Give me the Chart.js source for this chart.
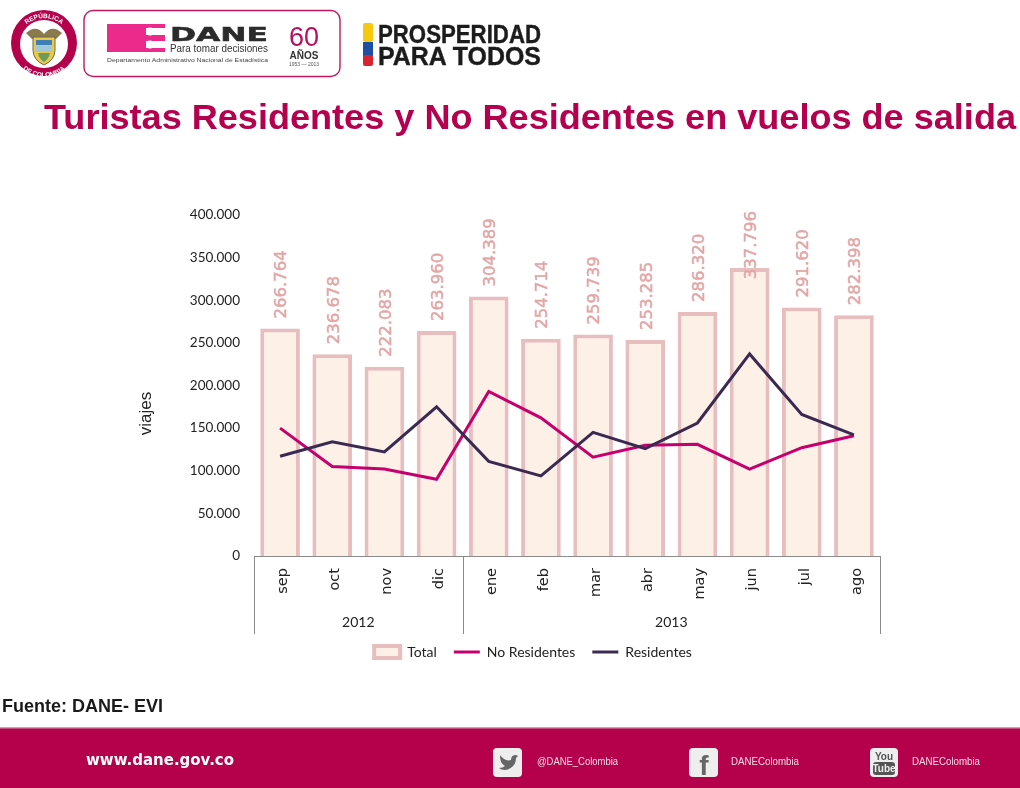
<!DOCTYPE html>
<html lang="es"><head><meta charset="utf-8">
<script src="https://cdn.jsdelivr.net/npm/chart.js@4/dist/chart.umd.min.js"></script>
<style>
html,body{margin:0;padding:0;background:#fff;width:1020px;height:788px;overflow:hidden}
#stage{position:relative;width:1020px;height:788px;overflow:hidden}
#c{position:absolute;left:0;top:0}
#art{position:absolute;left:0;top:0}
</style></head><body>
<div id="stage">
<canvas id="c" width="1020" height="788"></canvas>
<svg id="art" width="1020" height="788" viewBox="0 0 1020 788" xmlns="http://www.w3.org/2000/svg">
  <defs>
    <path id="arcTop" d="M 17 45 A 27 27 0 0 1 71 45"/>
    <path id="arcBot" d="M 12 45 A 32 32 0 0 0 76 45"/>
  </defs>
  <!-- escudo -->
  <circle cx="44" cy="43" r="33" fill="#B5004B"/>
  <circle cx="44" cy="44" r="24" fill="#fff"/>
  <text font-family="Liberation Sans" font-weight="bold" font-size="6.5" fill="#fff"><textPath href="#arcTop" startOffset="50%" text-anchor="middle">REPÚBLICA</textPath></text>
  <text font-family="Liberation Sans" font-weight="bold" font-size="6.5" fill="#fff"><textPath href="#arcBot" startOffset="50%" text-anchor="middle">DE COLOMBIA</textPath></text>
  <path d="M26 33 Q36 24 44 34 Q52 24 62 33 L56 39 L32 39 Z" fill="#8a7a4c"/>
  <path d="M33 37 H55 V50 Q55 60 44 65 Q33 60 33 50 Z" fill="#E9C94A" stroke="#6d6b4a" stroke-width="1"/>
  <rect x="36" y="40" width="16" height="5" fill="#3f7fb8"/>
  <rect x="36" y="46" width="16" height="6" fill="#9fc7d8"/>
  <path d="M38 53 H50 Q49 59 44 62 Q39 59 38 53 Z" fill="#6f9a5a"/>
  <!-- marco DANE -->
  <rect x="84" y="10.5" width="256" height="66" rx="9" fill="#fff" stroke="#C2185B" stroke-width="1.4"/>
  <rect x="107" y="24" width="58" height="28" fill="#EC2A8B"/>
  <rect x="146" y="28" width="19" height="7" fill="#fff"/><rect x="146" y="41" width="19" height="7" fill="#fff"/>
  <circle cx="150" cy="31.5" r="4" fill="#fff"/><circle cx="150" cy="44.5" r="4" fill="#fff"/>
  <text x="170" y="41" font-family="DejaVu Sans" font-weight="bold" font-size="19" textLength="98" lengthAdjust="spacingAndGlyphs" fill="#2b2b2b" stroke="#2b2b2b" stroke-width="0.5">DANE</text>
  <text x="170" y="52" font-family="Liberation Sans" font-size="10" textLength="98" lengthAdjust="spacingAndGlyphs" fill="#333">Para tomar decisiones</text>
  <text x="107" y="62" font-family="Liberation Sans" font-size="5.5" textLength="161" lengthAdjust="spacingAndGlyphs" fill="#444">Departamento Administrativo Nacional de Estadística</text>
  <text x="304" y="46" text-anchor="middle" font-family="Liberation Sans" font-size="27" fill="#B5125F">60</text>
  <text x="304" y="59" text-anchor="middle" font-family="Liberation Sans" font-weight="bold" font-size="10" fill="#333">AÑOS</text>
  <text x="304" y="66" text-anchor="middle" font-family="Liberation Sans" font-size="5" fill="#555">1953 — 2013</text>
  <!-- prosperidad -->
  <rect x="363" y="23" width="10" height="19" rx="2" fill="#F6C90E"/>
  <rect x="363" y="42" width="10" height="14" fill="#1F4FA3"/>
  <rect x="363" y="55" width="10" height="11" rx="2" fill="#D9232E"/>
  <text x="378" y="43" font-family="Liberation Sans" font-weight="bold" font-size="25" textLength="163" lengthAdjust="spacingAndGlyphs" fill="#1c1c1c" stroke="#1c1c1c" stroke-width="0.4">PROSPERIDAD</text>
  <text x="378" y="65" font-family="Liberation Sans" font-weight="bold" font-size="25" textLength="163" lengthAdjust="spacingAndGlyphs" fill="#1c1c1c" stroke="#1c1c1c" stroke-width="0.4">PARA TODOS</text>
  <!-- título -->
  <text x="44" y="129" font-family="Liberation Sans" font-weight="bold" font-size="35" textLength="972" lengthAdjust="spacingAndGlyphs" fill="#B4004E">Turistas Residentes y No Residentes en vuelos de salida</text>
  <!-- fuente -->
  <text x="2" y="712" font-family="Liberation Sans" font-weight="bold" font-size="18" textLength="161" lengthAdjust="spacingAndGlyphs" fill="#1a1a1a">Fuente: DANE- EVI</text>
  <!-- pie -->
  <rect x="0" y="728" width="1020" height="60" fill="#B5004B"/>
  <rect x="0" y="727" width="1020" height="1.5" fill="#dc9ab5"/>
  <text x="86" y="765" font-family="DejaVu Sans" font-weight="bold" font-size="15" textLength="148" lengthAdjust="spacingAndGlyphs" fill="#fff">www.dane.gov.co</text>
  <rect x="493" y="748" width="29" height="29" rx="4" fill="#eeeeee"/>
  <path d="M500 755 Q505 762 511 760 Q511 755 516 755 L518 756 L516 758 Q516 768 505 770 Q501 770 499 768 Q503 768 505 766 Q500 764 500 755Z" fill="#666"/>
  <text x="537" y="765" font-family="Liberation Sans" font-size="10" textLength="81" lengthAdjust="spacingAndGlyphs" fill="#f3dbe5">@DANE_Colombia</text>
  <rect x="689" y="748" width="29" height="29" rx="4" fill="#eeeeee"/>
  <text x="704" y="775" text-anchor="middle" font-family="Liberation Sans" font-weight="bold" font-size="28" fill="#666">f</text>
  <text x="731" y="765" font-family="Liberation Sans" font-size="10" textLength="68" lengthAdjust="spacingAndGlyphs" fill="#f3dbe5">DANEColombia</text>
  <rect x="870" y="748" width="28" height="29" rx="4" fill="#eeeeee"/>
  <rect x="873" y="762" width="22" height="13" rx="3" fill="#555"/>
  <text x="884" y="760" text-anchor="middle" font-family="Liberation Sans" font-weight="bold" font-size="10" fill="#555">You</text>
  <text x="884" y="772" text-anchor="middle" font-family="Liberation Sans" font-weight="bold" font-size="10" fill="#eee">Tube</text>
  <text x="912" y="765" font-family="Liberation Sans" font-size="10" textLength="68" lengthAdjust="spacingAndGlyphs" fill="#f3dbe5">DANEColombia</text>
</svg>
</div>
<script>
const months = ["sep","oct","nov","dic","ene","feb","mar","abr","may","jun","jul","ago"];
const yearGroups = ["2012","2013"];
const yearCounts = [4,8];
const total = [266764,236678,222083,263960,304389,254714,259739,253285,286320,337796,291620,282398];
const noResidentes = [150000,105000,102000,90000,193000,162000,116000,130000,131000,102000,127000,141000];
const residentes = [117000,134000,122000,175000,111000,94000,145000,126000,156000,237000,166000,142000];
const yTickMax = 400000, yTickStep = 50000;
const yTitleText = "viajes";

const fmt = v => v === 0 ? "0" : String(v).replace(/\B(?=(\d{3})+(?!\d))/g, ".");

const decor = {
  id:"decor",
  afterDatasetsDraw(chart){
    const {ctx} = chart;
    const a = chart.chartArea;
    const meta = chart.getDatasetMeta(0);
    ctx.save();
    ctx.fillStyle = "#E3A6A6";
    ctx.strokeStyle = "#E3A6A6";
    ctx.lineWidth = 0.5;
    ctx.font = "16.5px 'DejaVu Sans'";
    ctx.textAlign = "left"; ctx.textBaseline = "middle";
    meta.data.forEach((b,i)=>{
      const s = fmt(total[i]);
      const w = ctx.measureText(s).width;
      // la etiqueta no sube más allá del tope del área (queda sobre la barra en jun)
      const start = Math.max(b.y - 10, a.top - 4 + w);
      ctx.save();
      ctx.translate(b.x + 2, start);
      ctx.rotate(-Math.PI/2);
      ctx.fillText(s,0,0);
      ctx.strokeText(s,0,0);
      ctx.restore();
    });
    ctx.restore();
  },
  afterDraw(chart){
    const {ctx} = chart;
    const x = chart.scales.x, a = chart.chartArea;
    const step = (a.right-a.left)/months.length;
    const yBottom = a.bottom + 78;
    ctx.save();
    ctx.strokeStyle = "#8a8a8a"; ctx.lineWidth = 1;
    let idx = 0;
    const edge = [a.left];
    yearCounts.forEach(n=>{ idx += n; edge.push(x.getPixelForValue(idx-1)+step/2); });
    edge.forEach(px=>{
      const p = Math.round(px)+0.5;
      ctx.beginPath(); ctx.moveTo(p,a.bottom); ctx.lineTo(p,yBottom); ctx.stroke();
    });
    ctx.fillStyle = "#222";
    ctx.font = "14px Lato";
    ctx.textAlign = "center"; ctx.textBaseline = "middle";
    yearGroups.forEach((y,i)=>{
      ctx.fillText(y,(edge[i]+edge[i+1])/2,a.bottom+66);
    });
    // título del eje Y
    ctx.save();
    ctx.translate(146,(a.top+a.bottom)/2+28);
    ctx.rotate(-Math.PI/2);
    ctx.font = "17px 'Liberation Sans'";
    ctx.fillText(yTitleText,0,0);
    ctx.restore();
    ctx.restore();
  }
};

new Chart(document.getElementById("c"),{
  data:{
    labels:months,
    datasets:[
      {type:"bar",label:"Total",data:total,backgroundColor:"#FDF0E7",borderColor:"#E8BDBD",borderWidth:4,barPercentage:0.76,categoryPercentage:1,order:3,pointStyle:"rect"},
      {type:"line",label:"No Residentes",data:noResidentes,borderColor:"#C4006E",backgroundColor:"#C4006E",borderWidth:3,pointRadius:0,tension:0,order:2,pointStyle:"line"},
      {type:"line",label:"Residentes",data:residentes,borderColor:"#3A2A52",backgroundColor:"#3A2A52",borderWidth:3,pointRadius:0,tension:0,order:1,pointStyle:"line"}
    ]
  },
  options:{
    responsive:false,animation:false,
    layout:{padding:{left:130,right:84,top:215,bottom:119}},
    plugins:{
      tooltip:{enabled:false},
      title:{display:false},
      legend:{display:true,position:"bottom",labels:{usePointStyle:true,pointStyleWidth:26,font:{family:"Lato",size:14},color:"#222",padding:17,boxHeight:12,sort:(a,b)=>a.datasetIndex-b.datasetIndex}}
    },
    scales:{
      x:{
        offset:true,
        grid:{display:false,drawTicks:false},
        border:{display:true,color:"#8a8a8a",width:1},
        ticks:{autoSkip:false,minRotation:90,maxRotation:90,padding:12,labelOffset:3,color:"#222",font:{family:"DejaVu Sans",size:14.5}},
        afterFit(s){s.height=72;}
      },
      y:{
        min:0,max:yTickMax,
        grid:{display:false,drawTicks:false},
        border:{display:false},
        ticks:{stepSize:yTickStep,padding:14,color:"#222",font:{family:"Lato",size:13.5},callback:v=>fmt(v)},
        afterFit(s){s.width=124;}
      },
      y2:{
        position:"right",display:true,
        grid:{display:false,drawTicks:false},border:{display:false},
        ticks:{display:false},
        afterFit(s){s.width=56;}
      }
    }
  },
  plugins:[decor]
});
</script>
</body></html>
